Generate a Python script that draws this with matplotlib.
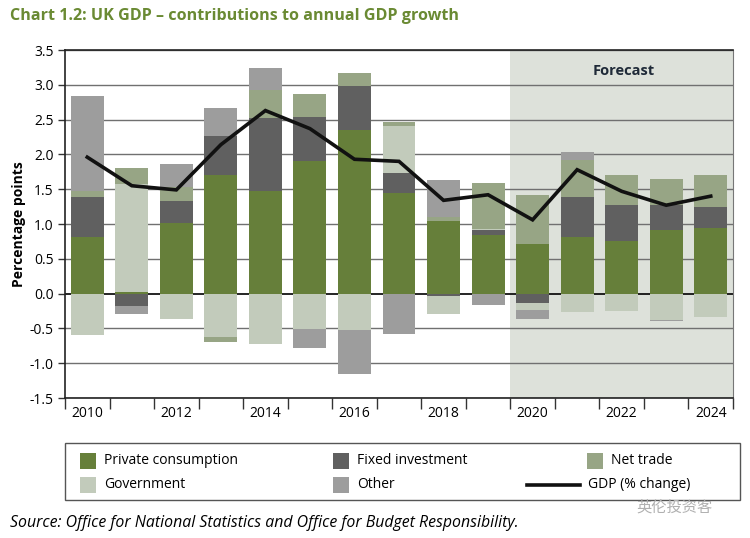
import numpy as np
import matplotlib.pyplot as plt
import matplotlib.patches as mpatches
from matplotlib.lines import Line2D

plt.rcParams['font.family'] = ['Open Sans', 'DejaVu Sans']

years = np.arange(2010, 2025)
# contributions, percentage points
private = [0.81, 0.02, 1.01, 1.70, 1.47, 1.90, 2.35, 1.44, 1.04, 0.84, 0.71, 0.81, 0.76, 0.91, 0.94]
fixed_inv = [0.58, -0.18, 0.32, 0.56, 1.05, 0.64, 0.63, 0.29, -0.04, 0.08, -0.14, 0.58, 0.51, 0.36, 0.30]
government = [-0.60, 1.56, -0.36, -0.63, -0.73, -0.51, -0.53, 0.68, -0.26, 0.01, -0.10, -0.27, -0.25, -0.38, -0.33]
net_trade = [0.09, 0.23, 0.20, -0.07, 0.40, 0.33, 0.19, 0.05, 0.06, 0.66, 0.71, 0.53, 0.43, 0.38, 0.46]
other = [1.36, -0.11, 0.33, 0.40, 0.32, -0.27, -0.62, -0.58, 0.53, -0.17, -0.12, 0.11, 0.00, -0.01, 0.00]
gdp = [1.96, 1.55, 1.49, 2.14, 2.63, 2.37, 1.93, 1.90, 1.34, 1.42, 1.06, 1.78, 1.47, 1.27, 1.40]

series = [
    ('Private consumption', private, '#667f3a'),
    ('Fixed investment', fixed_inv, '#606060'),
    ('Government', government, '#c2cbbb'),
    ('Net trade', net_trade, '#97a585'),
    ('Other', other, '#9d9d9d'),
]

fig = plt.figure(figsize=(7.5, 5.38), dpi=100)
ax = fig.add_axes([65/750, 1-398/538, (733-65)/750, (398-50)/538])

ax.axvspan(2019.5, 2024.6, color='#dde1da', zorder=0, lw=0)
ax.text(2022.05, 3.2, 'Forecast', ha='center', va='center', fontsize=10.5,
        weight='bold', color='#1f2a38')

for y in np.arange(-1.5, 3.51, 0.5):
    ax.axhline(y, color='#000000' if abs(y) < 1e-9 else '#707070',
               lw=1.2 if abs(y) < 1e-9 else 1.0, zorder=1)

pos_base = np.zeros(len(years))
neg_base = np.zeros(len(years))
for name, vals, col in series:
    v = np.array(vals)
    base = np.where(v >= 0, pos_base, neg_base)
    ax.bar(years, v, bottom=base, width=0.74, color=col, zorder=2, lw=0)
    pos_base = pos_base + np.where(v >= 0, v, 0)
    neg_base = neg_base + np.where(v < 0, v, 0)

ax.plot(years, gdp, color='#111111', lw=2.6, zorder=3, solid_joinstyle='miter')

ax.set_xlim(2009.5, 2024.5)
ax.set_ylim(-1.5, 3.5)
ax.set_yticks(np.arange(-1.5, 3.51, 0.5))
ax.set_yticklabels(['%.1f' % t for t in np.arange(-1.5, 3.51, 0.5)])
ax.set_xticks(years[::2])
ax.set_xticklabels([str(y) for y in years[::2]])
ax.set_xticks(np.arange(2009.5, 2025, 1), minor=True)
ax.tick_params(axis='x', which='major', length=0, pad=6, labelsize=10)
ax.tick_params(axis='x', which='minor', length=8, width=1, color='#333333', direction='out')
ax.tick_params(axis='y', length=5, width=1, color='#333333', labelsize=10, pad=3)
for side in ['top', 'left', 'bottom']:
    ax.spines[side].set_color('#222222')
    ax.spines[side].set_linewidth(1.2)
ax.spines['right'].set_color('#777777')
ax.set_ylabel('Percentage points', fontsize=10, weight='bold', labelpad=3)

fig.text(10/750, 1-16/538, 'Chart 1.2: UK GDP \u2013 contributions to annual GDP growth',
         fontsize=11.6, weight='bold', color='#6a8a33', va='center')

# legend drawn by hand to follow the original layout
fig.patches.append(mpatches.Rectangle((65/750, 1-500/538), 675/750, 57/538,
                   transform=fig.transFigure, fill=False, ec='#555555', lw=1))
leg = [
    ('Private consumption', '#667f3a', 80, 461),
    ('Fixed investment', '#606060', 333, 461),
    ('Net trade', '#97a585', 587, 461),
    ('Government', '#c2cbbb', 80, 485),
    ('Other', '#9d9d9d', 333, 485),
]
for name, col, x, y in leg:
    fig.patches.append(mpatches.Rectangle((x/750, 1-(y+8)/538), 16/750, 16/538,
                       transform=fig.transFigure, color=col, lw=0))
    fig.text((x+24)/750, 1-y/538, name, fontsize=10, va='center')
fig.lines.append(Line2D([527/750, 580/750], [1-485/538, 1-485/538],
                 transform=fig.transFigure, color='#111111', lw=2.6))
fig.text(588/750, 1-485/538, 'GDP (% change)', fontsize=10, va='center')

fig.text(10/750, 1-523/538,
         'Source: Office for National Statistics and Office for Budget Responsibility.',
         fontsize=11.4, style='italic', va='center')
fig.text(636/750, 1-507/538, '英伦投资客', fontsize=11, color='#b0b0b0', va='center',
         family=['Noto Sans CJK SC', 'DejaVu Sans'])

fig.savefig('out.png', dpi=100)
